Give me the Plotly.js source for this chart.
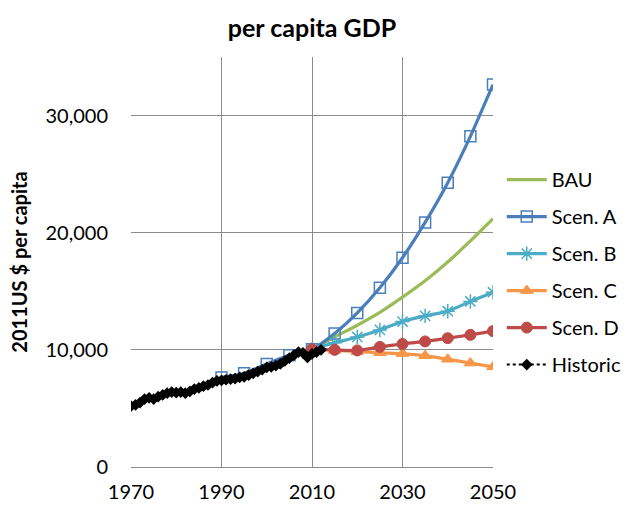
<!DOCTYPE html>
<html>
<head>
<meta charset="utf-8">
<script src="https://cdn.plot.ly/plotly-3.0.1.min.js"></script>
<style>html,body{margin:0;padding:0;background:#fff;}#chart{width:628px;height:505px;}</style>
</head>
<body>
<div id="chart"></div>
<script>
const histYears = [1970,1971,1972,1973,1974,1975,1976,1977,1978,1979,1980,1981,1982,1983,1984,1985,1986,1987,1988,1989,1990,1991,1992,1993,1994,1995,1996,1997,1998,1999,2000,2001,2002,2003,2004,2005,2006,2007,2008,2009,2010,2011,2012];
const historic = [5200,5300,5500,5800,5900,5800,6000,6150,6300,6400,6350,6400,6300,6450,6650,6750,6900,7000,7200,7350,7400,7450,7500,7550,7650,7700,7850,8000,8150,8300,8500,8550,8650,8800,9050,9300,9550,9800,9750,9350,9650,9800,10000];
const aYears = [1990,1995,2000,2005,2010,2015,2020,2025,2030,2035,2040,2045,2050];
const scenA = [7650,8000,8800,9550,10050,11400,13150,15300,17860,20880,24270,28230,32650];
const scenYears = [2010,2015,2020,2025,2030,2035,2040,2045,2050];
const bau   = [10050,11100,12100,13200,14500,15900,17500,19300,21200];
const scenB = [10050,10600,11100,11700,12420,12900,13300,14130,14920];
const scenC = [10050,9950,9850,9750,9680,9500,9200,8870,8550];
const scenD = [10050,10000,9950,10250,10500,10720,11000,11280,11600];
const xTicks = [1970,1990,2010,2030,2050];
const yTicks = [0,10000,20000,30000];

const font = "Lato, 'Open Sans', sans-serif";
function scen(name, xs, y, color, symbol, size, open) {
  const t = {
    x: xs, y: y, name: name, type: 'scatter', mode: symbol ? 'lines+markers' : 'lines',
    line: {color: color, width: 3.2, shape: 'spline', smoothing: 0.6},
    legendgroup: name
  };
  if (symbol) {
    t.marker = {symbol: symbol, size: size, color: color,
      line: {color: color, width: open ? 1.5 : 1}};
  }
  return t;
}
const traces = [
  scen('BAU', scenYears, bau, '#9BBB59', null),
  scen('Scen. A', aYears, scenA, '#4A7EBB', 'square-open', 11, true),
  scen('Scen. B', scenYears, scenB, '#4BACC6', 'asterisk-open', 12, true),
  scen('Scen. C', scenYears, scenC, '#F79646', 'triangle-up', 11, false),
  scen('Scen. D', scenYears, scenD, '#BE4B48', 'circle', 11, false),
  {x: histYears, y: historic, name: 'Historic', type: 'scatter', mode: 'lines+markers',
   line: {color: '#000', width: 2, dash: 'dot'},
   marker: {symbol: 'diamond', size: 9, color: '#000'}, legendgroup: 'Historic'}
];
const layout = {
  width: 628, height: 505,
  margin: {l: 131, r: 135, t: 57, b: 38},
  paper_bgcolor: '#fff', plot_bgcolor: '#fff',
  font: {family: font, size: 20, color: '#000'},
  title: {text: '<b>per capita GDP</b>', x: 0.5, xref: 'paper', y: 0.945, yanchor: 'middle',
          font: {family: font, size: 25, color: '#000'}},
  xaxis: {range: [1970, 2050], tickvals: xTicks, ticktext: xTicks.map(String),
          showgrid: true, gridcolor: '#8c8c8c', gridwidth: 1,
          showline: true, linecolor: '#8c8c8c', linewidth: 1, zeroline: false,
          ticks: '', ticklabelstandoff: 7, tickfont: {size: 20}},
  yaxis: {range: [0, 35000], tickvals: yTicks, tickformat: ',',
          showgrid: true, gridcolor: '#8c8c8c', gridwidth: 1,
          showline: false, zeroline: false, ticks: '', ticklabelstandoff: 22,
          tickfont: {size: 20},
          title: {text: '<b>2011US $ per capita</b>', standoff: 12, font: {size: 20}}},
  showlegend: true,
  legend: {xref: 'container', yref: 'container', x: 0.799, y: 0.683, xanchor: 'left', yanchor: 'top',
           font: {size: 20}, itemwidth: 40, tracegroupgap: 8, bgcolor: 'rgba(0,0,0,0)'}
};
Plotly.newPlot('chart', traces, layout, {displayModeBar: false, staticPlot: true});
</script>
</body>
</html>
